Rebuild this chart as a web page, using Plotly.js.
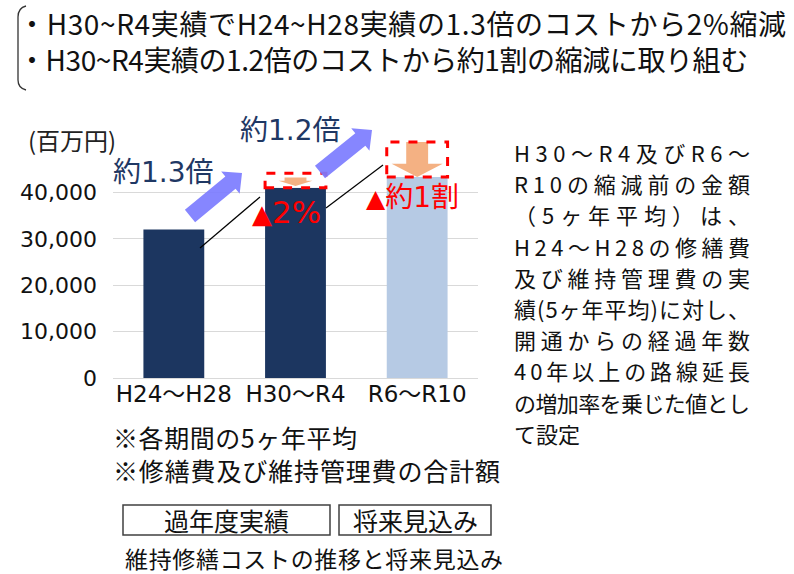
<!DOCTYPE html>
<html>
<head>
<meta charset="utf-8">
<script src="https://cdn.plot.ly/plotly-3.0.1.min.js"></script>
<style>
  html, body { margin: 0; padding: 0; background: #ffffff; }
  #chart { width: 794px; height: 574px; }
</style>
</head>
<body>
<div id="chart"></div>
<script>
// ---- data ----
const categories = ['H24～H28', 'H30～R4', 'R6～R10'];
const values = [32000, 41000, 43300];            // 百万円, 5ヶ年平均
const barColors = ['#1C3660', '#1C3660', '#B6CAE4'];
const beforeReduction = [null, 44150, 50850];    // top of the dashed "before reduction" boxes
const yTickVals = [0, 10000, 20000, 30000, 40000, 50000];
const yTickText = ['0', '10,000', '20,000', '30,000', '40,000', ''];
const titleLines = [
  '・H30~R4実績でH24~H28実績の1.3倍のコストから2%縮減',
  '・H30~R4実績の1.2倍のコストから約1割の縮減に取り組む'
];
const noteLines = [
  'H30～R4及びR6～',
  'R10の縮減前の金額',
  '（5ヶ年平均）は、',
  'H24～H28の修繕費',
  '及び維持管理費の実',
  '績(5ヶ年平均)に対し、',
  '開通からの経過年数',
  '40年以上の路線延長',
  'の増加率を乗じた値とし',
  'て設定'
];
const footnotes = ['※各期間の5ヶ年平均', '※修繕費及び維持管理費の合計額'];
const legendLabels = ['過年度実績', '将来見込み'];
const caption = '維持修繕コストの推移と将来見込み';
const yMax = 50000;

// ---- layout geometry (pixels) ----
const L = 113, R = 478, T = 146, B = 378;
const px = x => (x - L) / (R - L);
const py = y => (B - y) / (B - T);
const CJK = 'Noto Sans CJK JP, Noto Sans, sans-serif';
const MIX = 'DejaVu Sans, Noto Sans CJK JP, sans-serif';

const annotations = [];
const shapes = [];
const fitRight = {};   // annotation index -> right edge(s) (px) the line(s) span to

function ann(text, x, y, size, color, opts, right) {
  if (right) fitRight[annotations.length] = right;
  annotations.push(Object.assign({
    text: text, xref: 'paper', yref: 'paper', x: px(x), y: py(y),
    xanchor: 'left', yanchor: 'middle', showarrow: false, align: 'left',
    borderpad: 0,
    font: { family: CJK, size: size, color: color }
  }, opts || {}));
}

// title (two lines in one text block) + bracket
ann(titleLines.join('<br>'), 17, 41, 28, '#111111', null, [786, 748]);
shapes.push({
  type: 'path', xref: 'paper', yref: 'paper', layer: 'above',
  path: `M ${px(26)} ${py(6)} Q ${px(18)} ${py(8)} ${px(18)} ${py(17)} L ${px(18)} ${py(80)} Q ${px(18)} ${py(88)} ${px(26)} ${py(90)}`,
  line: { color: '#333333', width: 1.3 }
});

// unit label
ann('(百万円)', 27, 139, 24, '#222222');

// dashed "before reduction" boxes with down arrows (data x, paper y from values)
const peach = '#F4B183';
[1, 2].forEach(i => {
  const hw = 0.25;
  shapes.push({ type: 'rect', xref: 'x', yref: 'paper', x0: i - hw, x1: i + hw,
    y0: values[i] / yMax, y1: beforeReduction[i] / yMax,
    fillcolor: '#ffffff', line: { width: 0 }, layer: 'above' });
});
function downArrow(i, yTop, yNeck, yTip, bodyHalf, headHalf) {
  const p = (x, y) => `${x} ${y / yMax}`;
  return 'M ' + p(i - bodyHalf, yTop) + ' L ' + p(i + bodyHalf, yTop) + ' L ' + p(i + bodyHalf, yNeck) +
    ' L ' + p(i + headHalf, yNeck) + ' L ' + p(i, yTip) + ' L ' + p(i - headHalf, yNeck) +
    ' L ' + p(i - bodyHalf, yNeck) + ' Z';
}
shapes.push({ type: 'path', xref: 'x', yref: 'paper', layer: 'above',
  path: downArrow(2, beforeReduction[2], 46200, values[2], 0.09, 0.21),
  fillcolor: peach, line: { width: 0 } });
shapes.push({ type: 'path', xref: 'x', yref: 'paper', layer: 'above',
  path: downArrow(1, 43200, 42500, values[1] + 400, 0.09, 0.14),
  fillcolor: peach, line: { width: 0 } });
[1, 2].forEach(i => {
  const hw = 0.25;
  shapes.push({ type: 'rect', xref: 'x', yref: 'paper', x0: i - hw, x1: i + hw,
    y0: values[i] / yMax, y1: beforeReduction[i] / yMax,
    fillcolor: 'rgba(0,0,0,0)', line: { color: '#FF0000', width: 3, dash: 'dash' }, layer: 'above' });
});

// blue growth arrows (pixel geometry)
function growthArrow(tail, tip, sh, hh, hl) {
  const dx = tip[0] - tail[0], dy = tip[1] - tail[1];
  const len = Math.hypot(dx, dy);
  const ux = dx / len, uy = dy / len, nx = -uy, ny = ux;
  const neck = [tip[0] - ux * hl, tip[1] - uy * hl];
  const pts = [
    [tail[0] + nx * sh, tail[1] + ny * sh],
    [neck[0] + nx * sh, neck[1] + ny * sh],
    [neck[0] + nx * hh, neck[1] + ny * hh],
    tip,
    [neck[0] - nx * hh, neck[1] - ny * hh],
    [neck[0] - nx * sh, neck[1] - ny * sh],
    [tail[0] - nx * sh, tail[1] - ny * sh]
  ];
  return 'M ' + pts.map(p => `${px(p[0])} ${py(p[1])}`).join(' L ') + ' Z';
}
shapes.push({ type: 'path', xref: 'paper', yref: 'paper', layer: 'above',
  path: growthArrow([190, 216], [242, 173], 8, 14.5, 15),
  fillcolor: 'rgba(124,124,255,0.92)', line: { width: 0 } });
shapes.push({ type: 'path', xref: 'paper', yref: 'paper', layer: 'above',
  path: growthArrow([320, 172], [372, 130], 8, 14.5, 15),
  fillcolor: 'rgba(124,124,255,0.92)', line: { width: 0 } });

// connector lines
[[200, 248, 260, 197], [326, 208, 383, 165]].forEach(c => {
  shapes.push({ type: 'line', xref: 'paper', yref: 'paper', layer: 'above',
    x0: px(c[0]), y0: py(c[1]), x1: px(c[2]), y1: py(c[3]),
    line: { color: '#000000', width: 1.2 } });
});

// callout texts
ann('約1.3倍', 112, 172, 28, '#1F3864', { font: { family: MIX, size: 28, color: '#1F3864' } });
ann('約1.2倍', 239, 130, 28, '#1F3864', { font: { family: MIX, size: 28, color: '#1F3864' } });
ann('<span style="font-size:26px">▲</span>2%', 251, 212, 31, '#FF0000', { font: { family: MIX, size: 31, color: '#FF0000' } });
ann('<span style="font-size:25px">▲</span>約1割', 365, 197, 28, '#FF0000', { font: { family: MIX, size: 28, color: '#FF0000' } });

// right-hand explanatory block
const noteX = 513, noteY0 = 152, noteDy = 31.2;
noteLines.forEach((t, k) => ann(t, noteX, noteY0 + k * noteDy, 22, '#111111', null,
  k < noteLines.length - 1 ? 750 : null));

// footnotes, legend boxes, caption
ann(footnotes[0], 112, 437, 25, '#111111', null, 357);
ann(footnotes[1], 112, 470, 25, '#111111', null, 500);
shapes.push({ type: 'rect', xref: 'paper', yref: 'paper', x0: px(123), x1: px(330), y0: py(505), y1: py(535),
  fillcolor: '#ffffff', line: { color: '#404040', width: 1.5 } });
shapes.push({ type: 'rect', xref: 'paper', yref: 'paper', x0: px(339), x1: px(491), y0: py(505), y1: py(535),
  fillcolor: '#ffffff', line: { color: '#404040', width: 1.5 } });
ann(legendLabels[0], 226, 520, 25, '#111111', { xanchor: 'center', align: 'center' });
ann(legendLabels[1], 415, 520, 25, '#111111', { xanchor: 'center', align: 'center' });
ann(caption, 124, 558, 23, '#111111', null, 503);

const data = [{
  type: 'bar', x: categories, y: values,
  marker: { color: barColors, line: { width: 0 } },
  hoverinfo: 'skip'
}];

const layout = {
  width: 794, height: 574,
  margin: { l: L, r: 794 - R, t: T, b: 574 - B, pad: 0 },
  paper_bgcolor: '#ffffff', plot_bgcolor: '#ffffff',
  showlegend: false,
  bargap: 0.5,
  xaxis: {
    type: 'category', showgrid: false, showline: true, linecolor: '#D9D9D9', linewidth: 1,
    ticks: '', ticklabelstandoff: -5,
    tickfont: { family: MIX, size: 23, color: '#111111' }
  },
  yaxis: {
    range: [0, yMax], tickmode: 'array', tickvals: yTickVals, ticktext: yTickText,
    showgrid: true, gridcolor: '#D9D9D9', gridwidth: 1, zeroline: false, showline: false,
    ticks: '', ticklabelstandoff: 15,
    tickfont: { family: MIX, size: 22, color: '#111111' }
  },
  annotations: annotations,
  shapes: shapes
};

function fitSpacing(el, right) {
  const left = el.getBoundingClientRect().left;
  const len = el.getComputedTextLength();
  const n = Array.from(el.textContent).length;
  if (n < 2) return;
  const sp = (right - left - len) / (n - 1);
  el.setAttribute('letter-spacing', sp.toFixed(2));
}

Plotly.newPlot('chart', data, layout, { staticPlot: true, displayModeBar: false }).then(gd => {
  // stretch or tighten selected lines so they span the same width as in the reference
  gd.querySelectorAll('g.annotation').forEach(g => {
    const idx = +g.getAttribute('data-index');
    const right = fitRight[idx];
    if (!right) return;
    const t = g.querySelector('text.annotation-text');
    if (!t) return;
    if (Array.isArray(right)) {
      const lines = t.querySelectorAll('tspan.line');
      lines.forEach((ln, k) => { if (right[k]) fitSpacing(ln, right[k]); });
    } else {
      fitSpacing(t, right);
    }
  });
});
</script>
</body>
</html>
